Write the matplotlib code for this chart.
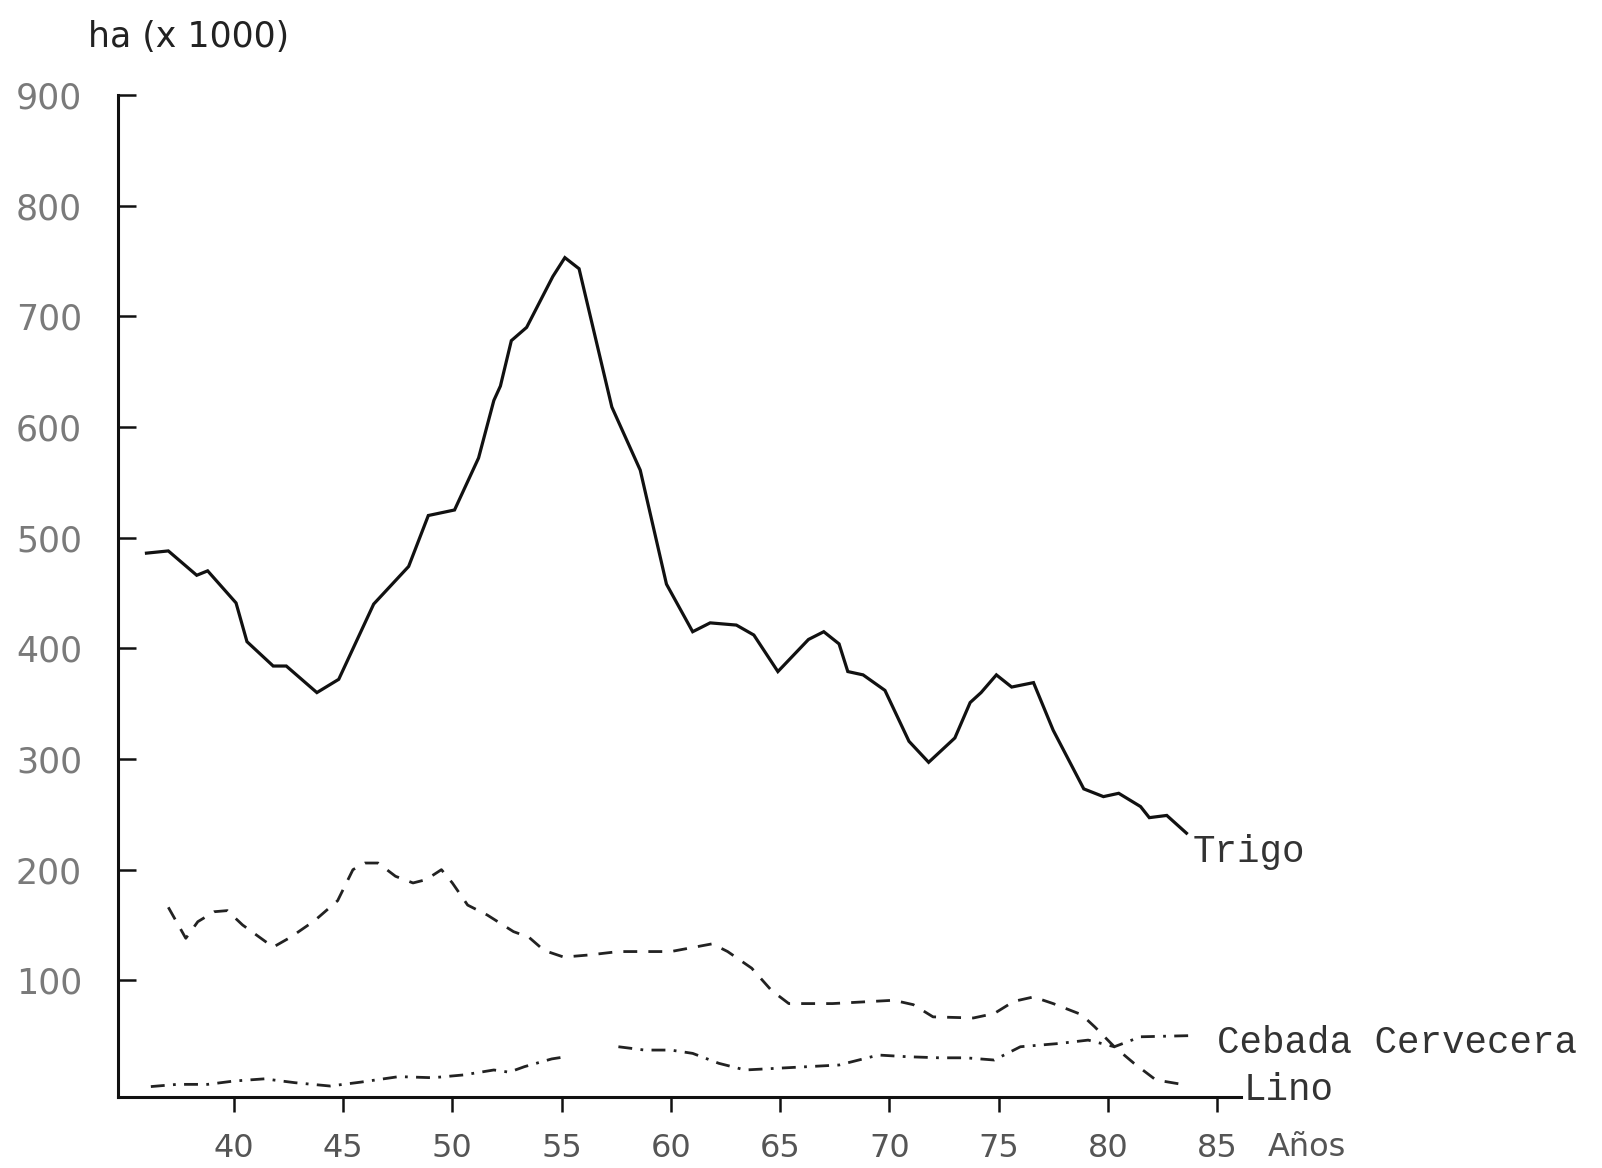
import numpy as np
from matplotlib import pyplot as plt

# Trigo (línea continua)
trigo_x = [36.0, 37.0, 38.3, 38.8, 40.1, 40.6, 41.8, 42.4, 43.8, 44.8, 46.4, 48.0,
           48.9, 50.1, 51.2, 51.9, 52.2, 52.7, 53.4, 54.6, 55.15, 55.8, 57.3, 58.6,
           59.8, 61.0, 61.8, 63.0, 63.8, 64.9, 66.3, 67.0, 67.7, 68.1, 68.8, 69.8,
           70.9, 71.8, 73.0, 73.7, 74.2, 74.9, 75.6, 76.6, 77.5, 78.9, 79.8, 80.5,
           81.5, 81.9, 82.7, 83.6]
trigo_y = [486, 488, 466, 470, 441, 406, 384, 384, 360, 372, 440, 474,
           520, 525, 572, 624, 637, 678, 690, 736, 753, 743, 618, 561,
           458, 415, 423, 421, 412, 379, 408, 415, 404, 379, 376, 362,
           316, 297, 319, 351, 360, 376, 365, 369, 326, 273, 266, 269,
           257, 247, 249, 233]

# Lino (trazos)
lino_x = [37.0, 37.8, 38.35, 39.1, 39.7, 40.4, 41.8, 42.6, 43.7, 44.75, 45.45, 46.0,
          46.6, 47.4, 48.2, 48.8, 49.5, 50.0, 50.7, 51.6, 52.8, 53.5, 54.2, 55.1,
          56.3, 57.6, 60.0, 61.9, 62.6, 63.7, 64.6, 65.4, 67.4, 70.2, 71.1, 72.0,
          73.85, 74.8, 75.7, 76.6, 77.5, 78.8, 79.4, 80.3, 81.2, 82.2, 83.7]
lino_y = [166, 138, 153, 162, 163, 150, 130, 139, 154, 172, 200, 206,
          206, 194, 188, 191, 200, 188, 168, 159, 144, 139, 127, 121,
          123, 126, 126, 133, 126, 111, 91, 79, 79, 82, 78, 67,
          66, 70, 81, 85, 79, 69, 58, 40, 25, 10, 5]

# Cebada Cervecera (trazo-punto), con un corte hacia 1956
cebada_x = [36.2, 37.4, 38.8, 40.0, 41.4, 42.8, 44.4, 45.8, 47.55, 49.1, 50.5, 51.9,
            52.6, 53.3, 54.55, 55.2, 56.4, 57.6, 58.8, 60.0, 61.0, 62.2, 63.4, 65.3,
            67.7, 69.5, 70.8, 72.3, 73.5, 74.8, 76.0, 77.8, 79.1, 80.3, 81.5, 83.7]
cebada_y = [4, 6, 6, 9, 11, 7.5, 4.5, 8, 13, 12, 14.5, 19,
            17, 22, 29, 31, np.nan, 40, 37, 37, 34, 25, 19, 21,
            23.5, 32.5, 31, 30, 30, 28, 40, 43, 46, 40, 49, 50]

xticks = [40, 45, 50, 55, 60, 65, 70, 75, 80, 85]
yticks = [100, 200, 300, 400, 500, 600, 700, 800, 900]

fig = plt.figure(figsize=(16.02, 11.68), dpi=100)
ax = fig.add_axes([0.0737, 0.0608, 0.7010, 0.8579])

ax.plot(trigo_x, trigo_y, color='#111111', lw=2.3, solid_joinstyle='miter')
ax.plot(lino_x, lino_y, color='#222222', lw=2.0, dashes=(5, 4))
ax.plot(cebada_x, cebada_y, color='#222222', lw=2.0, dashes=(5, 3, 1, 3))

ax.set_xlim(34.7, 86.1)
ax.set_ylim(-5.4, 900)

for s in ['top', 'right']:
    ax.spines[s].set_visible(False)
for s in ['left', 'bottom']:
    ax.spines[s].set_linewidth(2.2)
    ax.spines[s].set_color('#111111')

ax.set_xticks(xticks)
ax.set_yticks(yticks)
ax.tick_params(axis='x', direction='out', length=11, width=1.8, pad=15,
               labelsize=23, labelcolor='#555555', color='#111111')
ax.tick_params(axis='y', direction='in', length=13, width=1.8, pad=26,
               labelsize=25, labelcolor='#7a7a7a', color='#111111')

mono = 'Liberation Mono'
ax.text(83.9, 216, 'Trigo', fontsize=27, family=mono, color='#333333',
        va='center', ha='left', clip_on=False)
ax.text(85.0, 43, 'Cebada Cervecera', fontsize=27, family=mono, color='#333333',
        va='center', ha='left', clip_on=False)
ax.text(86.2, 1, 'Lino', fontsize=27, family=mono, color='#333333',
        va='center', ha='left', clip_on=False)
ax.text(87.3, -51, 'Años', fontsize=23, color='#555555',
        va='center', ha='left', clip_on=False)

fig.text(0.0549, 0.968, 'ha (x 1000)', fontsize=25, color='#222222',
         va='center', ha='left')

plt.savefig('out.png', dpi=100)
